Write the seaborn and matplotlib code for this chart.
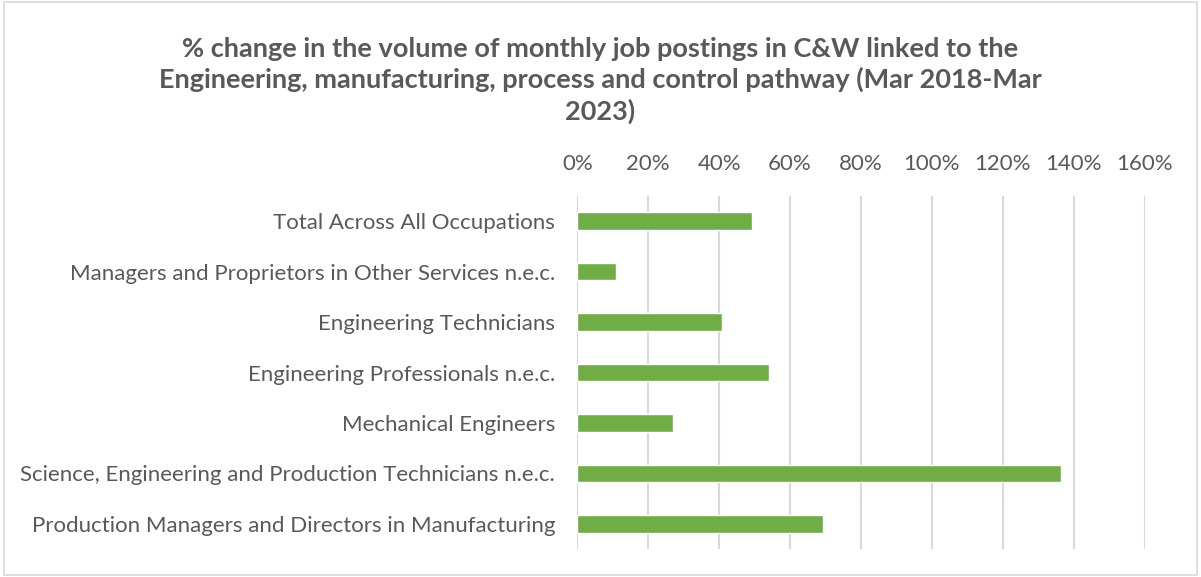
import matplotlib
matplotlib.use("Agg")
import matplotlib.pyplot as plt
import seaborn as sns
import pandas as pd
from matplotlib.ticker import PercentFormatter
from matplotlib.patches import Rectangle

# Chart data
occupations = [
    "Total Across All Occupations",
    "Managers and Proprietors in Other Services n.e.c.",
    "Engineering Technicians",
    "Engineering Professionals n.e.c.",
    "Mechanical Engineers",
    "Science, Engineering and Production Technicians n.e.c.",
    "Production Managers and Directors in Manufacturing",
]
pct_change = [49.4, 10.8, 40.8, 54.2, 26.9, 136.4, 69.3]

df = pd.DataFrame({"occupation": occupations, "change": pct_change})

sns.set_style("white")
plt.rcParams["font.family"] = ["Lato", "DejaVu Sans"]

txt = "#595959"
fig = plt.figure(figsize=(12.01, 5.77), dpi=100)
ax = fig.add_axes([0.4807, 0.0485, 0.4723, 0.6118])

sns.barplot(data=df, x="change", y="occupation", color="#70ad47",
            width=0.35, saturation=1, ax=ax, zorder=3)

ax.set_xlim(0, 160)
ax.set_ylim(6.5, -0.5)
ax.set_xticks(range(0, 161, 20))
ax.xaxis.set_major_formatter(PercentFormatter(decimals=0))
ax.xaxis.tick_top()
ax.tick_params(axis="x", length=0, pad=16, labelsize=16, labelcolor=txt)
ax.tick_params(axis="y", length=0, pad=16, labelsize=16, labelcolor=txt)
ax.grid(axis="x", color="#d9d9d9", linewidth=1.5, zorder=0)
ax.set_xlabel("")
ax.set_ylabel("")
for s in ax.spines.values():
    s.set_visible(False)

fig.text(0.5, 0.861, "% change in the volume of monthly job postings in C&W linked to the\n"
         "Engineering, manufacturing, process and control pathway (Mar 2018-Mar\n2023)",
         ha="center", va="center", fontsize=19.5, fontweight="bold", color=txt,
         linespacing=1.3)

fig.patches.append(Rectangle((0.003, 0.004), 0.994, 0.992, transform=fig.transFigure,
                             fill=False, edgecolor="#d9d9d9", linewidth=1.2))

fig.savefig("out.png", dpi=100)
